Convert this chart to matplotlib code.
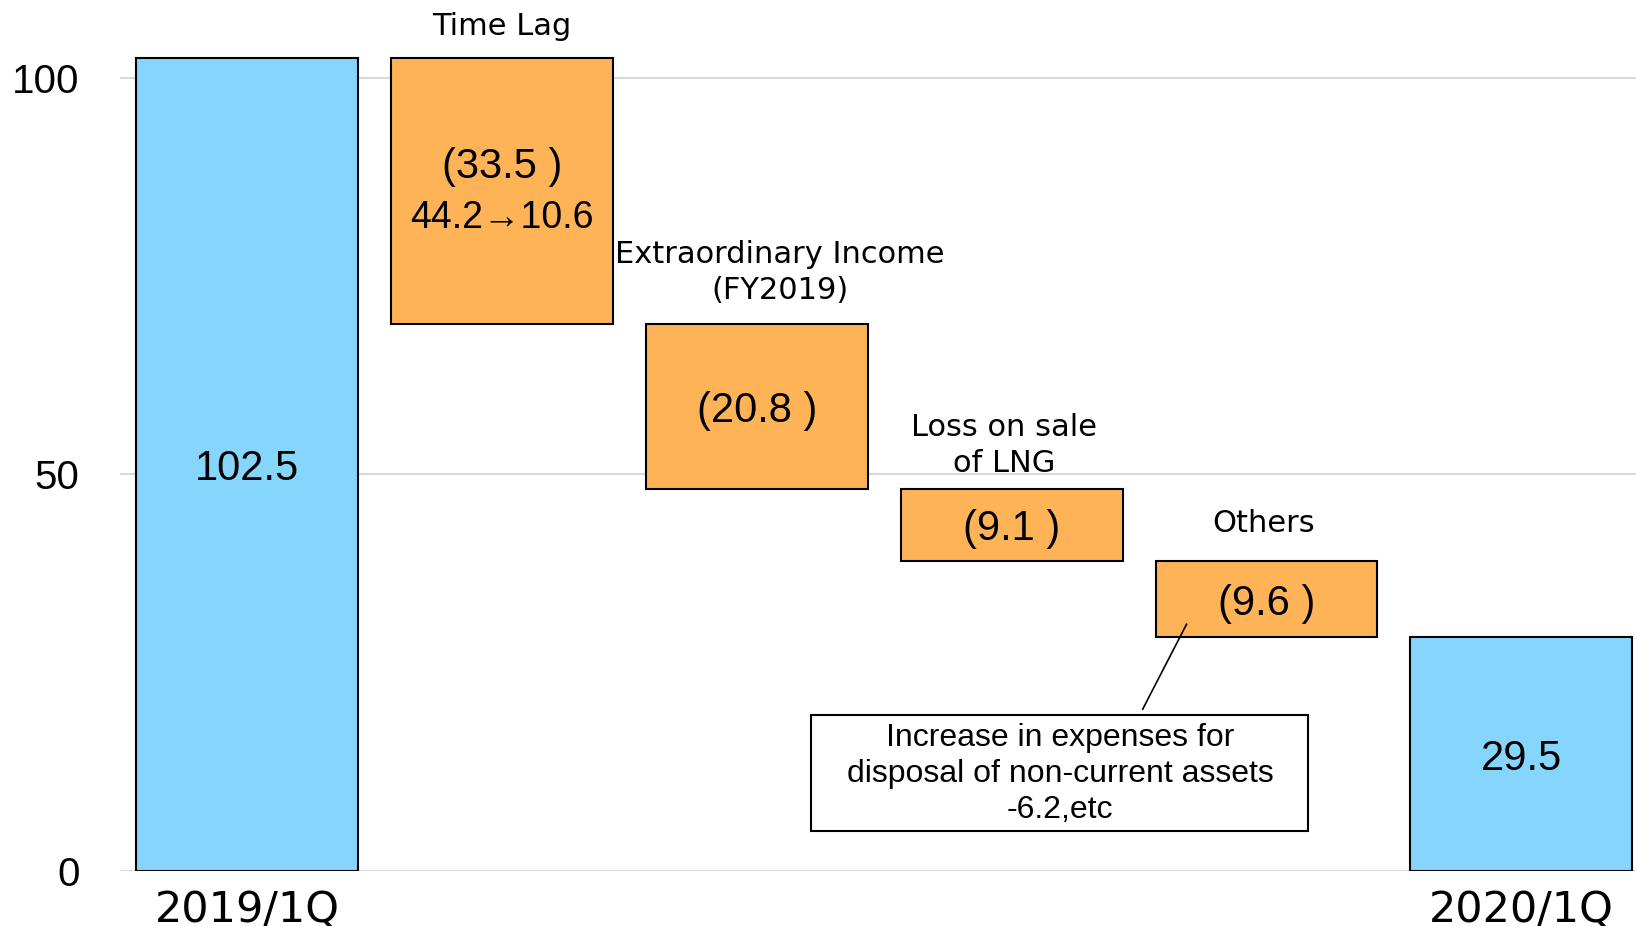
import matplotlib
matplotlib.use('Agg')
import matplotlib.pyplot as plt
from matplotlib.patches import Rectangle
import numpy as np

# waterfall data
steps = ['2019/1Q', 'Time Lag', 'Extraordinary Income\n(FY2019)', 'Loss on sale\nof LNG', 'Others', '2020/1Q']
start_value = 102.5
changes = [-33.5, -20.8, -9.1, -9.6]
end_value = 29.5
value_labels = ['102.5', '(33.5 )', '(20.8 )', '(9.1 )', '(9.6 )', '29.5']
tick_labels = ['2019/1Q', '', '', '', '', '2020/1Q']
note_text = 'Increase in expenses for\ndisposal of non-current assets\n-6.2,etc'
time_lag_detail = '44.2\u219210.6'

blue = '#86D5FC'
orange = '#FFB357'
num_font = ['Liberation Sans', 'DejaVu Sans']

# bottoms / heights for the floating bars
heights = [start_value]
bottoms = [0.0]
level = start_value
for c in changes:
    level = level + c
    heights.append(-c)
    bottoms.append(level)
heights.append(end_value)
bottoms.append(0.0)
colors = [blue] + [orange] * len(changes) + [blue]

fig = plt.figure(figsize=(16.36, 9.26), dpi=100)
ax = fig.add_axes([0.0733, 0.0594, 0.9267, 0.9406])

x = np.arange(len(steps))
ax.bar(x, heights, bottom=bottoms, width=0.87, color=colors,
       edgecolor='black', linewidth=1.5, zorder=3)

ax.set_xlim(-0.5, 5.45)
ax.set_ylim(0, 109.8)
ax.set_yticks([0, 50, 100])
ax.set_yticklabels(['0', '50', '100'], fontsize=29, family=num_font)
ax.set_xticks(x)
ax.set_xticklabels(tick_labels, fontsize=31, family='DejaVu Sans')
ax.tick_params(axis='y', length=0, pad=29)
ax.tick_params(axis='x', length=0, pad=13)
for s in ax.spines.values():
    s.set_visible(False)
ax.yaxis.grid(True, color='#D9D9D9', linewidth=1.5, zorder=0)
ax.set_axisbelow(True)

# values inside bars
for i in range(len(steps)):
    mid = bottoms[i] + heights[i] / 2
    if i == 1:
        ax.text(x[i], mid + 3.0, value_labels[i], ha='center', va='center',
                fontsize=30, family=num_font, zorder=4)
        ax.text(x[i], mid - 3.4, time_lag_detail, ha='center', va='center',
                fontsize=27, family=num_font, zorder=4)
    else:
        ax.text(x[i], mid - 0.6, value_labels[i], ha='center', va='center',
                fontsize=30, family=num_font, zorder=4)

# category names above the change bars
label_dx = [0, 0.0, 0.09, -0.03, -0.01, 0]
label_dy = [0, 3.9, 6.5, 5.4, 4.7, 0]
for i in range(1, len(steps) - 1):
    top = bottoms[i] + heights[i]
    ax.text(x[i] + label_dx[i], top + label_dy[i], steps[i], ha='center',
            va='center', fontsize=22, family='DejaVu Sans', linespacing=1.3,
            zorder=4)

# note box with leader line to "Others"
ax.plot([3.686, 3.514], [31.1, 20.4], color='black', linewidth=1.2, zorder=4)
ax.add_patch(Rectangle((2.214, 5.1), 1.95, 14.6, facecolor='white',
                       edgecolor='black', linewidth=1.5, zorder=4))
ax.text(3.19, 12.2, note_text, ha='center', va='center', fontsize=23,
        family=num_font, linespacing=1.25, zorder=5)

fig.savefig('out.png', dpi=100)
